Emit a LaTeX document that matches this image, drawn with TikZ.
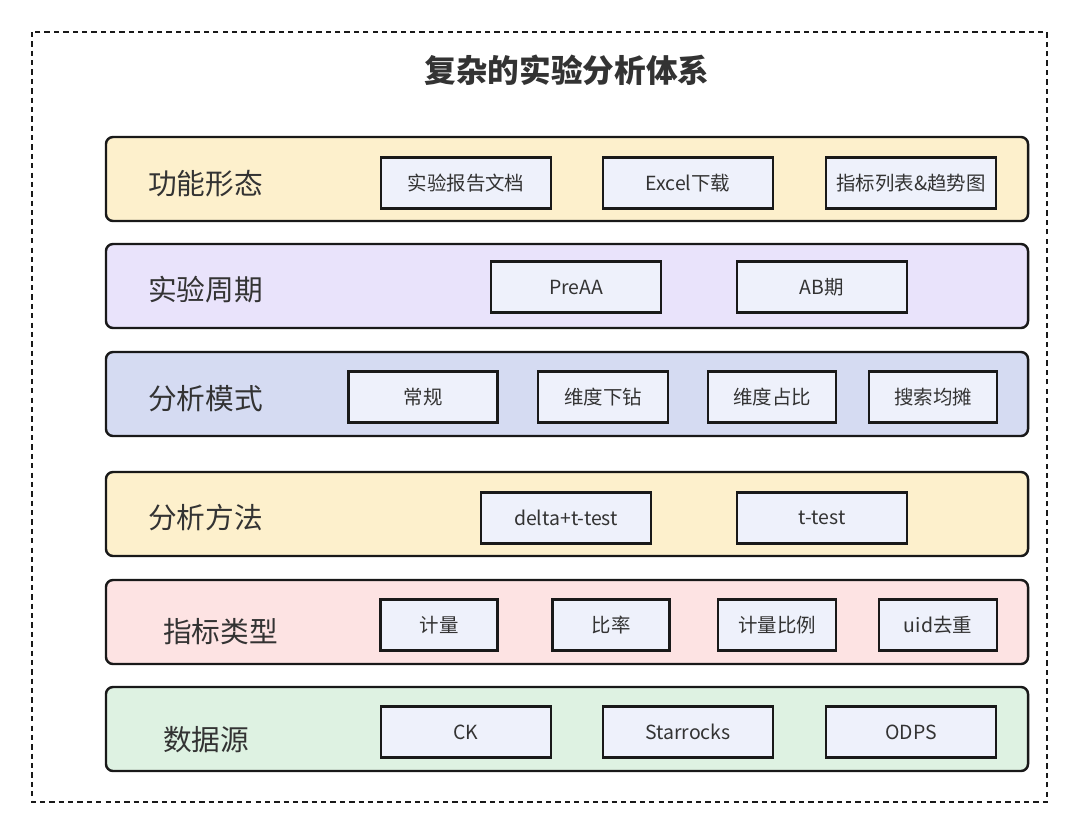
\documentclass[tikz,border=0pt]{standalone}
\usepackage{fontspec}
\setmainfont{Noto Sans CJK SC}
\usepackage{tikz}
\usetikzlibrary{positioning}
\definecolor{ylw}{HTML}{FDF0CC}
\definecolor{lav}{HTML}{E9E3FB}
\definecolor{blu}{HTML}{D5DBF2}
\definecolor{pnk}{HTML}{FDE3E3}
\definecolor{grn}{HTML}{DEF2E2}
\definecolor{itm}{HTML}{EEF1FB}
\definecolor{txt}{HTML}{333333}
\begin{document}
\begin{tikzpicture}[x=0.03cm, y=-0.03cm]
	\tikzstyle{layer} = [draw=black!90, line width=2.1pt, rounded corners=6pt, minimum width=27.66cm, minimum height=2.52cm, inner sep=0pt]
	\tikzstyle{item} = [draw=black!90, line width=2pt, fill=itm, minimum height=1.53cm, inner sep=0pt, font=\fontsize{16.6}{18}\selectfont, text=txt]
	\tikzstyle{lbl} = [anchor=west, inner sep=0pt, font=\fontsize{24.5}{28}\selectfont, text=txt]
	\useasboundingbox (0,0) rectangle (1080,834);
	% frame
	\draw[line width=2pt, dash pattern=on 4.5pt off 3.5pt, black!90] (32,32) rectangle (1047,802);
	\node[font=\bfseries\fontsize{27}{32}\selectfont, text=txt] (title) at (567,70) {复杂的实验分析体系};
	% row 1
	\path
	node[layer, fill=ylw] (L1) at (567,179) {}
	node[lbl] (l1) at (148,184) {功能形态}
	node[item, minimum width=5.1cm] (a1) at (466,183) {实验报告文档}
	node[item, minimum width=5.1cm] (a2) at (688,183) {Excel下载}
	node[item, minimum width=5.1cm] (a3) at (911,183) {指标列表\&趋势图}
	;
	% row 2
	\path
	node[layer, fill=lav] (L2) at (567,286) {}
	node[lbl] (l2) at (148,290) {实验周期}
	node[item, minimum width=5.1cm] (b1) at (576,287) {PreAA}
	node[item, minimum width=5.1cm] (b2) at (822,287) {AB期}
	;
	% row 3
	\path
	node[layer, fill=blu] (L3) at (567,394) {}
	node[lbl] (l3) at (148,399) {分析模式}
	node[item, minimum width=4.47cm] (c1) at (423,397) {常规}
	node[item, minimum width=3.9cm] (c2) at (603,397) {维度下钻}
	node[item, minimum width=3.84cm] (c3) at (772,397) {维度占比}
	node[item, minimum width=3.84cm] (c4) at (933,397) {搜索均摊}
	;
	% row 4
	\path
	node[layer, fill=ylw] (L4) at (567,514) {}
	node[lbl] (l4) at (148,518) {分析方法}
	node[item, minimum width=5.1cm] (d1) at (566,518) {delta+t-test}
	node[item, minimum width=5.1cm] (d2) at (822,518) {t-test}
	;
	% row 5
	\path
	node[layer, fill=pnk] (L5) at (567,622) {}
	node[lbl] (l5) at (163,632) {指标类型}
	node[item, minimum width=3.5cm] (e1) at (439,625) {计量}
	node[item, minimum width=3.5cm] (e2) at (611,625) {比率}
	node[item, minimum width=3.54cm] (e3) at (777,625) {计量比例}
	node[item, minimum width=3.54cm] (e4) at (938,625) {uid去重}
	;
	% row 6
	\path
	node[layer, fill=grn] (L6) at (567,729) {}
	node[lbl] (l6) at (163,740) {数据源}
	node[item, minimum width=5.1cm] (f1) at (466,732) {CK}
	node[item, minimum width=5.1cm] (f2) at (688,732) {Starrocks}
	node[item, minimum width=5.1cm] (f3) at (911,732) {ODPS}
	;
\end{tikzpicture}
\end{document}
